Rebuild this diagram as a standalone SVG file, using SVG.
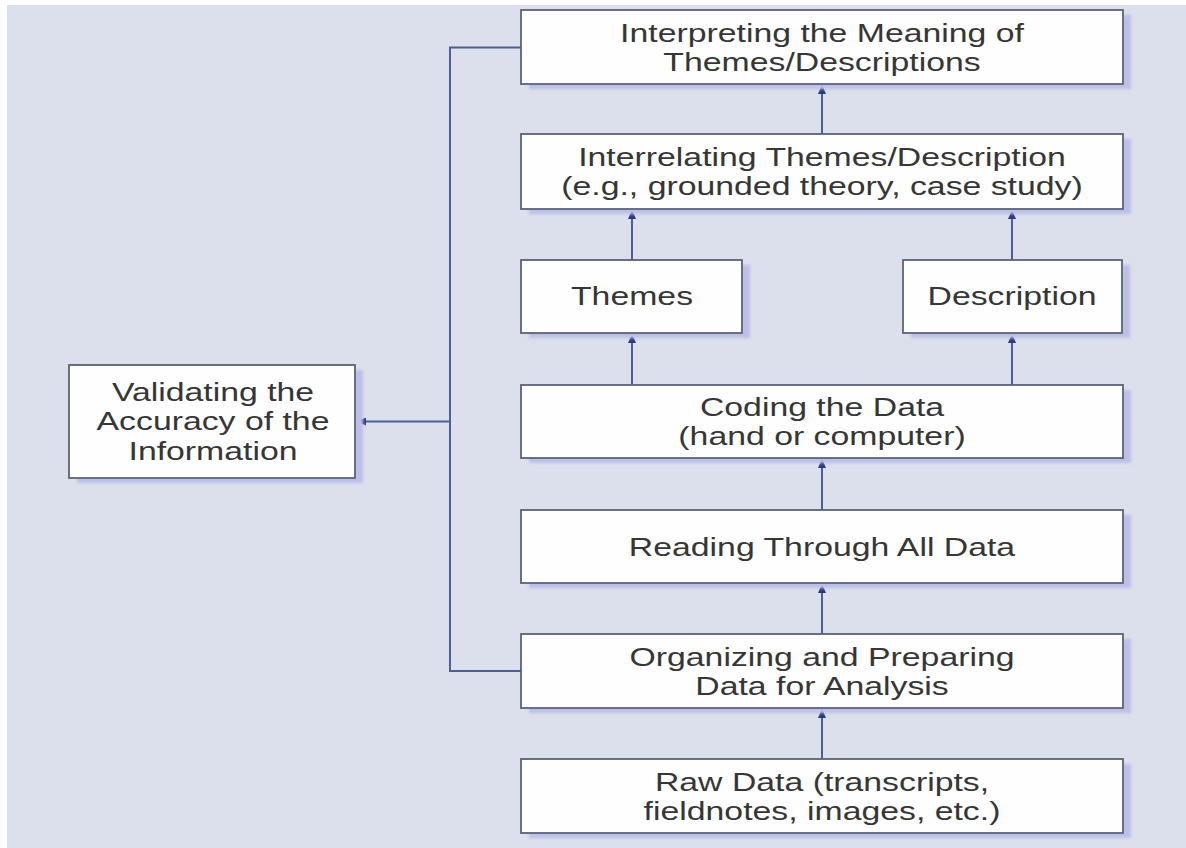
<svg xmlns="http://www.w3.org/2000/svg" width="1186" height="848" viewBox="0 0 1186 848">
<style>
.bg{fill:#dcdfec}
.box{fill:#fefefe;stroke:#5b6379;stroke-width:1.8}
.shadow{fill:#bcc0e8;filter:url(#blur)}
.lbl{font-family:"Liberation Sans",Arial,sans-serif;font-size:26px;fill:#363636;text-anchor:middle}
.conn{fill:none;stroke:#4d5f94;stroke-width:2}
</style>
<defs>
<filter id="blur" x="-5%" y="-20%" width="110%" height="140%"><feGaussianBlur stdDeviation="1.5"/></filter>
<marker id="ah" markerWidth="9" markerHeight="8" refX="9" refY="4" orient="auto" markerUnits="userSpaceOnUse">
<path d="M0,0 L9,4 L0,8 z" fill="#2b3b82"/>
</marker>
</defs>
<rect x="0" y="0" width="1186" height="848" fill="#ffffff"/>
<rect class="bg" x="7" y="5" width="1179" height="843"/>

<g id="connectors">
<path class="conn" d="M521,47.5 H450 V671 H521"/>
<line class="conn" x1="450" y1="421.5" x2="357" y2="421.5" marker-end="url(#ah)"/>
<line class="conn" x1="822" y1="134" x2="822" y2="85" marker-end="url(#ah)"/>
<line class="conn" x1="632" y1="260" x2="632" y2="210" marker-end="url(#ah)"/>
<line class="conn" x1="1012" y1="260" x2="1012" y2="210" marker-end="url(#ah)"/>
<line class="conn" x1="632" y1="385" x2="632" y2="334" marker-end="url(#ah)"/>
<line class="conn" x1="1012" y1="385" x2="1012" y2="334" marker-end="url(#ah)"/>
<line class="conn" x1="822" y1="510" x2="822" y2="459" marker-end="url(#ah)"/>
<line class="conn" x1="822" y1="634" x2="822" y2="584" marker-end="url(#ah)"/>
<line class="conn" x1="822" y1="759" x2="822" y2="709" marker-end="url(#ah)"/>
</g>

<g id="interpreting">
<rect class="shadow" x="529" y="15" width="602" height="74"/>
<rect class="box" x="521" y="10" width="602" height="74"/>
<text class="lbl" transform="translate(822,0) scale(1.3,1)"><tspan x="0" y="42">Interpreting the Meaning of</tspan><tspan x="0" y="71">Themes/Descriptions</tspan></text>
</g>

<g id="interrelating">
<rect class="shadow" x="529" y="139" width="602" height="75"/>
<rect class="box" x="521" y="134" width="602" height="75"/>
<text class="lbl" transform="translate(822,0) scale(1.3,1)"><tspan x="0" y="166.5">Interrelating Themes/Description</tspan><tspan x="0" y="195.5">(e.g., grounded theory, case study)</tspan></text>
</g>

<g id="themes">
<rect class="shadow" x="529" y="265" width="221" height="73"/>
<rect class="box" x="521" y="260" width="221" height="73"/>
<text class="lbl" transform="translate(632,0) scale(1.3,1)"><tspan x="0" y="305">Themes</tspan></text>
</g>

<g id="description">
<rect class="shadow" x="911" y="265" width="219" height="73"/>
<rect class="box" x="903" y="260" width="219" height="73"/>
<text class="lbl" transform="translate(1012,0) scale(1.3,1)"><tspan x="0" y="305">Description</tspan></text>
</g>

<g id="coding">
<rect class="shadow" x="529" y="390" width="602" height="73"/>
<rect class="box" x="521" y="385" width="602" height="73"/>
<text class="lbl" transform="translate(822,0) scale(1.3,1)"><tspan x="0" y="416">Coding the Data</tspan><tspan x="0" y="445">(hand or computer)</tspan></text>
</g>

<g id="reading">
<rect class="shadow" x="529" y="515" width="602" height="73"/>
<rect class="box" x="521" y="510" width="602" height="73"/>
<text class="lbl" transform="translate(822,0) scale(1.3,1)"><tspan x="0" y="556">Reading Through All Data</tspan></text>
</g>

<g id="organizing">
<rect class="shadow" x="529" y="639" width="602" height="74"/>
<rect class="box" x="521" y="634" width="602" height="74"/>
<text class="lbl" transform="translate(822,0) scale(1.3,1)"><tspan x="0" y="666">Organizing and Preparing</tspan><tspan x="0" y="695">Data for Analysis</tspan></text>
</g>

<g id="rawdata">
<rect class="shadow" x="529" y="764" width="602" height="74"/>
<rect class="box" x="521" y="759" width="602" height="74"/>
<text class="lbl" transform="translate(822,0) scale(1.3,1)"><tspan x="0" y="791">Raw Data (transcripts,</tspan><tspan x="0" y="820">fieldnotes, images, etc.)</tspan></text>
</g>

<g id="validating">
<rect class="shadow" x="77" y="370" width="286" height="113"/>
<rect class="box" x="69" y="365" width="286" height="113"/>
<text class="lbl" transform="translate(213,0) scale(1.3,1)"><tspan x="0" y="401">Validating the</tspan><tspan x="0" y="430.5">Accuracy of the</tspan><tspan x="0" y="460">Information</tspan></text>
</g>
</svg>
